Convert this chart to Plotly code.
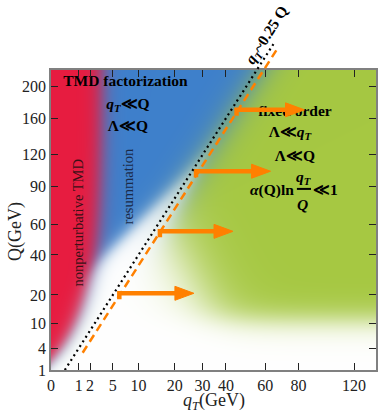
import numpy as np
import plotly.graph_objects as go

# ---------------- data ----------------
x_tick_vals = [0, 1, 2, 5, 10, 20, 30, 40, 60, 80, 120]          # q_T (GeV)
y_tick_vals = [1, 4, 10, 20, 40, 60, 90, 120, 160, 200]          # Q (GeV)

# q_T ~ 0.25 Q boundary (black dotted)
black_Q = [1.0, 262.0]
black_qT = [0.25, 65.5]
# orange dashed boundary
orange_Q = [3.24, 250.0]
orange_qT = [1.31, 66.5]

# orange arrows: Q level, start q_T, tip q_T
arrow_Q = [170.0, 104.0, 55.0, 20.7]
arrow_qT_start = [45.0, 27.5, 15.5, 6.1]
arrow_qT_tip = [84.0, 63.0, 43.3, 26.7]

# ---------------- style / layout constants ----------------
W, H = 378, 415
ML, MR, MT, MB = 51, 2, 5, 45
PX_U = 27.66      # pixels per sqrt(GeV) on x
PX_V = 21.61      # pixels per sqrt(GeV) on y
plot_w = W - ML - MR
plot_h_all = H - MT - MB
main_h = 300
x_max = plot_w / PX_U
y_max_main = 1 + main_h / PX_V
y_max_all = 1 + plot_h_all / PX_V

FONT = "Liberation Serif"
ORANGE = "#ff8000"

s = np.sqrt

# ---------------- background shading ----------------
nx, ny = plot_w, main_h
dx = x_max / nx
dy = (y_max_main - 1) / ny
u = (np.arange(nx) + 0.5) * dx
v = 1 + (np.arange(ny) + 0.5) * dy
U, V = np.meshgrid(u, v)
Hp = (V - 1) * PX_V
D = (U - 0.5 * V) * PX_U - 3


def sig(z):
    return 1.0 / (1.0 + np.exp(-z))


red = np.array([232, 28, 64], float)
blue = np.array([62, 128, 204], float)
green = np.array([166, 200, 66], float)
white = np.array([255, 255, 255], float)

f = 1.85 * (1 - np.exp(-(V - 1.3) / 2.5))
r = sig((f - U) * PX_U / 5)
g = sig(((U - 0.5 * V) * PX_U - 5) / 10)
ab = sig((Hp + 2.5 * np.abs(D) - 207) / 15)
ag = sig((Hp + 0.87 * np.maximum(D, 0) - 150) / 16) * sig((Hp - 50) / 8)

r3, g3 = r[..., None], g[..., None]
base = r3 * red + (1 - r3) * ((1 - g3) * blue + g3 * green)
alpha = r + (1 - r) * ((1 - g) * ab + g * ag)
img = base * alpha[..., None] + white * (1 - alpha[..., None])
img = np.clip(img, 0, 255).astype(np.uint8)

fig = go.Figure()
fig.add_trace(go.Image(z=img, x0=dx / 2, dx=dx, y0=1 + dy / 2, dy=dy,
                       colormodel="rgb", hoverinfo="skip",
                       xaxis="x", yaxis="y"))

# ---------------- labels drawn under arrows ----------------
txt_font = dict(family=FONT, size=15.5, color="black")
labels = [
    (2.69, 14.33, "<b>TMD factorization</b>"),
    (2.78, 13.26, "<b><i>q</i><sub><i>T</i></sub>≪Q</b>"),
    (2.78, 12.24, "<b>Λ≪Q</b>"),
    (8.82, 12.94, "<b>fixed order</b>"),
    (8.64, 11.97, "<b>Λ≪<i>q</i><sub><i>T</i></sub></b>"),
    (8.82, 10.86, "<b>Λ≪Q</b>"),
]
fig.add_trace(go.Scatter(x=[l[0] for l in labels], y=[l[1] for l in labels],
                         text=[l[2] for l in labels], mode="text",
                         textposition="middle center", textfont=txt_font,
                         hoverinfo="skip", showlegend=False,
                         xaxis="x", yaxis="y", cliponaxis=False))

# ---------------- arrows ----------------
head_len = 19 / PX_U
head_hw = 7 / PX_V
stub = 6 / PX_V
sx, sy, hx, hy = [], [], [], []
for q, a, b in zip(arrow_Q, arrow_qT_start, arrow_qT_tip):
    vv, ua, ub = s(q), s(a), s(b)
    sx += [ua, ua, ub - head_len * 0.6, None]
    sy += [vv - stub, vv, vv, None]
    hx += [ub - head_len, ub, ub - head_len, ub - head_len, None]
    hy += [vv + head_hw, vv, vv - head_hw, vv + head_hw, None]
fig.add_trace(go.Scatter(x=sx, y=sy, mode="lines",
                         line=dict(color=ORANGE, width=4.5),
                         hoverinfo="skip", showlegend=False, xaxis="x", yaxis="y"))
fig.add_trace(go.Scatter(x=hx, y=hy, mode="lines", fill="toself",
                         fillcolor=ORANGE, line=dict(color=ORANGE, width=1),
                         hoverinfo="skip", showlegend=False, xaxis="x", yaxis="y"))

# ---------------- boundary lines (extended subplot) ----------------
fig.add_trace(go.Scatter(x=s(orange_qT), y=s(orange_Q), mode="lines",
                         line=dict(color=ORANGE, width=2.5, dash="8px,5px"),
                         hoverinfo="skip", showlegend=False, xaxis="x2", yaxis="y2"))
fig.add_trace(go.Scatter(x=s(black_qT), y=s(black_Q), mode="lines",
                         line=dict(color="black", width=2.2, dash="2px,3.5px"),
                         hoverinfo="skip", showlegend=False, xaxis="x2", yaxis="y2"))

# ---------------- annotations ----------------
ann = []
ann.append(dict(x=0.976, y=7.78, xref="x", yref="y", text="nonperturbative TMD",
                textangle=-90, showarrow=False,
                font=dict(family=FONT, size=14.5, color="#3a1016")))
ann.append(dict(x=2.78, y=9.49, xref="x", yref="y", text="resummation",
                textangle=-90, showarrow=False,
                font=dict(family=FONT, size=14.5, color="#1b2a48")))
ann.append(dict(x=8.86, y=9.33, xref="x", yref="y", text="<b><i>α</i>(Q)ln</b>",
                xanchor="right", showarrow=False, font=txt_font))
ann.append(dict(x=9.13, y=9.93, xref="x", yref="y",
                text="<b><i>q</i><sub><i>T</i></sub></b>",
                showarrow=False, font=txt_font))
ann.append(dict(x=9.10, y=8.68, xref="x", yref="y", text="<b><i>Q</i></b>",
                showarrow=False, font=txt_font))
ann.append(dict(x=9.40, y=9.33, xref="x", yref="y", text="<b>≪1</b>",
                xanchor="left", showarrow=False, font=txt_font))
ann.append(dict(x=7.80, y=16.50, xref="x2", yref="y2",
                text="<b><i>q</i><sub><i>T</i></sub>~0.25 Q</b>",
                textangle=-57.5, showarrow=False,
                font=dict(family=FONT, size=15.5, color="black")))
# axis titles
ann.append(dict(x=0.5, y=-31 / plot_h_all, xref="paper", yref="paper",
                text="<i>q</i><sub><i>T</i></sub>(GeV)", showarrow=False,
                xanchor="center", yanchor="middle",
                font=dict(family=FONT, size=18, color="#222")))
ann.append(dict(x=(15 - ML) / plot_w, y=(370 - 232) / plot_h_all,
                xref="paper", yref="paper", text="Q(GeV)", textangle=-90,
                showarrow=False, xanchor="center", yanchor="middle",
                font=dict(family=FONT, size=18, color="#222")))

shapes = [dict(type="line", xref="x", yref="y", x0=8.89, x1=9.40, y0=9.38, y1=9.38,
               line=dict(color="black", width=2))]

axis_common = dict(showgrid=False, zeroline=False, showline=True, automargin=False,
                   linecolor="#808080", linewidth=1.5, mirror="allticks",
                   ticks="inside", ticklen=7, tickwidth=1.2, tickcolor="#222",
                   tickfont=dict(family=FONT, size=16, color="#222"))

fig.update_layout(
    width=W, height=H,
    margin=dict(l=ML, r=MR, t=MT, b=MB, autoexpand=False),
    paper_bgcolor="white", plot_bgcolor="rgba(0,0,0,0)",
    showlegend=False,
    annotations=ann, shapes=shapes,
    xaxis=dict(domain=[0, 1], range=[0, x_max], anchor="y",
               tickmode="array", tickvals=list(s(x_tick_vals)),
               ticktext=[str(t) for t in x_tick_vals], **axis_common),
    yaxis=dict(domain=[0, main_h / plot_h_all], range=[1, y_max_main], anchor="x",
               autorange=False, scaleanchor=False,
               tickmode="array", tickvals=list(s(y_tick_vals)),
               ticktext=[str(t) for t in y_tick_vals], **axis_common),
    xaxis2=dict(domain=[0, 1], range=[0, x_max], anchor="y2", visible=False,
                showgrid=False, zeroline=False),
    yaxis2=dict(domain=[0, 1], range=[1, y_max_all], anchor="x2", visible=False,
                showgrid=False, zeroline=False),
)

fig.write_html("out.html", config={"displayModeBar": False},
               post_script="document.body.style.margin='0px';document.body.style.padding='0px';")
